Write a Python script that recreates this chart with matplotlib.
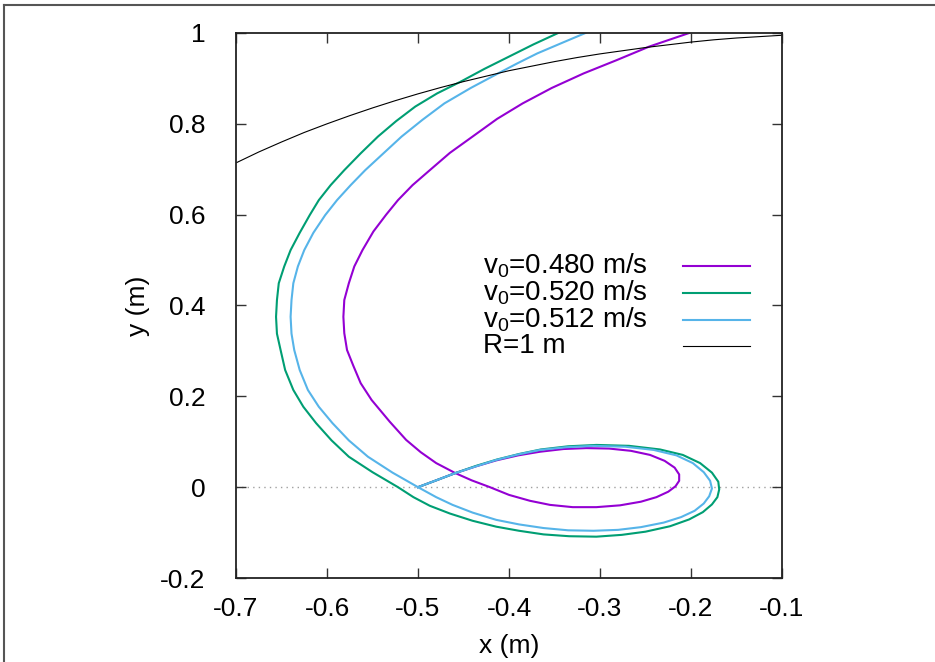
"""Trajectories for three launch speeds, with the R=1 m circle."""

import matplotlib
matplotlib.use('Agg')
import matplotlib.pyplot as plt
from matplotlib.lines import Line2D

plt.rcParams['font.family'] = ['Liberation Sans', 'DejaVu Sans']
plt.rcParams['mathtext.fontset'] = 'custom'
plt.rcParams['mathtext.rm'] = 'Liberation Sans'
plt.rcParams['mathtext.it'] = 'Liberation Sans:italic'

# values
x_480 = [-0.500, -0.480, -0.459, -0.436, -0.414, -0.390, -0.366, -0.340, -0.315, -0.290,
         -0.266, -0.245, -0.229, -0.218, -0.213, -0.213, -0.217, -0.225, -0.238, -0.255,
         -0.278, -0.304, -0.330, -0.355, -0.377, -0.400, -0.421, -0.441, -0.459, -0.480,
         -0.497, -0.513, -0.531, -0.551, -0.563, -0.571, -0.578, -0.581, -0.582, -0.581,
         -0.576, -0.570, -0.561, -0.549, -0.535, -0.522, -0.506, -0.487, -0.465, -0.440,
         -0.413, -0.385, -0.353, -0.318, -0.282, -0.246, -0.202]
y_480 = [0.000, 0.015, 0.031, 0.046, 0.059, 0.070, 0.078, 0.084, 0.086, 0.085,
         0.080, 0.071, 0.058, 0.043, 0.028, 0.014, 0.002, -0.010, -0.022, -0.032,
         -0.040, -0.044, -0.044, -0.039, -0.030, -0.017, 0.000, 0.015, 0.031, 0.053,
         0.077, 0.104, 0.144, 0.192, 0.229, 0.267, 0.302, 0.339, 0.375, 0.412,
         0.449, 0.486, 0.522, 0.563, 0.600, 0.632, 0.665, 0.698, 0.736, 0.772,
         0.811, 0.845, 0.879, 0.911, 0.940, 0.970, 1.000]

x_520 = [-0.500, -0.480, -0.459, -0.436, -0.413, -0.389, -0.365, -0.335, -0.304, -0.268,
         -0.234, -0.209, -0.190, -0.177, -0.170, -0.169, -0.171, -0.177, -0.187, -0.202,
         -0.223, -0.250, -0.276, -0.304, -0.334, -0.362, -0.389, -0.414, -0.440, -0.465,
         -0.487, -0.505, -0.522, -0.550, -0.576, -0.595, -0.612, -0.626, -0.637, -0.646,
         -0.651, -0.655, -0.656, -0.655, -0.653, -0.647, -0.640, -0.630, -0.619, -0.609,
         -0.596, -0.581, -0.563, -0.544, -0.524, -0.503, -0.479, -0.453, -0.427, -0.400,
         -0.373, -0.346]
y_520 = [0.000, 0.015, 0.031, 0.047, 0.061, 0.073, 0.083, 0.090, 0.093, 0.091,
         0.083, 0.071, 0.053, 0.032, 0.012, -0.005, -0.022, -0.038, -0.055, -0.071,
         -0.086, -0.098, -0.105, -0.109, -0.108, -0.104, -0.096, -0.087, -0.074, -0.058,
         -0.041, -0.022, 0.000, 0.033, 0.067, 0.103, 0.141, 0.177, 0.214, 0.258,
         0.302, 0.338, 0.375, 0.412, 0.449, 0.486, 0.522, 0.560, 0.599, 0.632,
         0.665, 0.698, 0.735, 0.772, 0.806, 0.838, 0.867, 0.893, 0.921, 0.948,
         0.975, 1.000]

x_512 = [-0.500, -0.480, -0.459, -0.436, -0.414, -0.390, -0.366, -0.337, -0.307, -0.272,
         -0.241, -0.216, -0.198, -0.186, -0.179, -0.177, -0.180, -0.186, -0.196, -0.211,
         -0.230, -0.255, -0.280, -0.307, -0.335, -0.362, -0.389, -0.414, -0.440, -0.462,
         -0.480, -0.500, -0.528, -0.555, -0.576, -0.594, -0.609, -0.621, -0.630, -0.636,
         -0.639, -0.640, -0.639, -0.637, -0.632, -0.625, -0.615, -0.602, -0.589, -0.574,
         -0.558, -0.538, -0.518, -0.495, -0.471, -0.442, -0.412, -0.391, -0.369, -0.342,
         -0.316]
y_512 = [0.000, 0.015, 0.031, 0.046, 0.060, 0.072, 0.082, 0.088, 0.091, 0.089,
         0.082, 0.070, 0.053, 0.033, 0.014, -0.003, -0.020, -0.036, -0.052, -0.066,
         -0.078, -0.088, -0.094, -0.096, -0.095, -0.090, -0.082, -0.072, -0.056, -0.039,
         -0.022, 0.000, 0.032, 0.067, 0.103, 0.141, 0.177, 0.214, 0.258, 0.302,
         0.338, 0.375, 0.412, 0.449, 0.486, 0.522, 0.560, 0.599, 0.632, 0.665,
         0.698, 0.735, 0.772, 0.809, 0.845, 0.879, 0.911, 0.933, 0.955, 0.978,
         1.000]

x_circle = [-0.700, -0.675, -0.650, -0.625, -0.600, -0.575, -0.550, -0.525, -0.500,
            -0.475, -0.450, -0.425, -0.400, -0.375, -0.350, -0.325, -0.300, -0.275,
            -0.250, -0.225, -0.200, -0.175, -0.150, -0.125, -0.100]
y_circle = [0.714, 0.738, 0.760, 0.781, 0.800, 0.818, 0.835, 0.851, 0.866,
            0.880, 0.893, 0.905, 0.917, 0.927, 0.937, 0.946, 0.954, 0.961,
            0.968, 0.974, 0.980, 0.985, 0.989, 0.992, 0.995]

labels = ['v$_0$=0.480 m/s', 'v$_0$=0.520 m/s', 'v$_0$=0.512 m/s', 'R=1 m']
colors = ['#9400d3', '#009e73', '#56b4e9', '#000000']
widths = [1.5, 1.5, 1.5, 0.8]

fig = plt.figure(figsize=(9.35, 6.62), dpi=100)
ax = fig.add_axes([236 / 935, 84 / 662, 546 / 935, 545 / 662])

ax.axhline(0, color='#a0a0a0', lw=1, ls=(0, (1, 3)), zorder=1)
series = [(x_480, y_480), (x_520, y_520), (x_512, y_512), (x_circle, y_circle)]
for (xs, ys), c, w in zip(series, colors, widths):
    ax.plot(xs, ys, color=c, lw=w, zorder=2, solid_joinstyle='round')

ax.set_xlim(-0.7, -0.1)
ax.set_ylim(-0.2, 1.0)
ax.set_xticks([-0.7, -0.6, -0.5, -0.4, -0.3, -0.2, -0.1])
ax.set_yticks([-0.2, 0, 0.2, 0.4, 0.6, 0.8, 1])
ax.set_xticklabels(['-0.7', '-0.6', '-0.5', '-0.4', '-0.3', '-0.2', '-0.1'])
ax.set_yticklabels(['-0.2', '0', '0.2', '0.4', '0.6', '0.8', '1'])
ax.tick_params(direction='in', top=True, right=True, length=7, width=1,
               labelsize=19, color='#333333')
ax.tick_params(axis='x', pad=14)
ax.tick_params(axis='y', pad=22)
for s in ax.spines.values():
    s.set_linewidth(1.3)
    s.set_color('#222222')

ax.set_xlabel('x (m)', fontsize=19, labelpad=9)
ax.set_ylabel('y (m)', fontsize=19, labelpad=7)

# key, text on the left and sample line on the right
row_y = [266, 293, 320, 346]
for lab, c, w, py in zip(labels, colors, widths, row_y):
    fy = 1 - py / 662
    fig.text(483 / 935, fy, lab, fontsize=20, va='center', ha='left')
    fig.add_artist(Line2D([683 / 935, 750 / 935], [fy, fy], color=c, lw=w))

# frame edges of the screenshot
fig.add_artist(Line2D([4 / 935, 4 / 935], [0, 1 - 5 / 662], color='#555555', lw=1.5))
fig.add_artist(Line2D([4 / 935, 1], [1 - 5 / 662, 1 - 5 / 662], color='#555555', lw=1.5))

fig.savefig('out.png', dpi=100)
